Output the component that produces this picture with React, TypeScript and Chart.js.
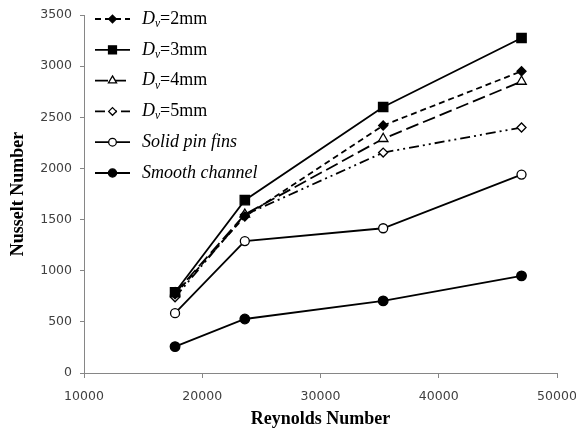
import React, { useEffect, useRef } from 'react';
import { Chart, registerables } from 'chart.js';

Chart.register(...registerables);

const reynolds = [17700, 23600, 35300, 47000];
const dv2 = [770, 1530, 2420, 2950];
const dv3 = [790, 1690, 2600, 3275];
const dv4 = [780, 1550, 2290, 2850];
const dv5 = [740, 1545, 2155, 2400];
const solidPinFins = [585, 1290, 1415, 1940];
const smoothChannel = [258, 528, 705, 950];

const xTicks = [10000, 20000, 30000, 40000, 50000];
const yTicks = [0, 500, 1000, 1500, 2000, 2500, 3000, 3500];

const legendItems = [
  { d: true, rest: '=2mm' },
  { d: true, rest: '=3mm' },
  { d: true, rest: '=4mm' },
  { d: true, rest: '=5mm' },
  { d: false, rest: 'Solid pin fins' },
  { d: false, rest: 'Smooth channel' },
];

const seriesList = [
  { data: dv2, dash: [6, 4], style: 'rectRot', r: 4.5, fill: '#000' },
  { data: dv3, dash: [], style: 'rect', r: 6.6, fill: '#000' },
  { data: dv4, dash: [13, 5], style: 'triangle', r: 5.5, fill: '#fff' },
  { data: dv5, dash: [10, 4, 2, 4, 2, 4], style: 'rectRot', r: 4.5, fill: '#fff' },
  { data: solidPinFins, dash: [], style: 'circle', r: 4.5, fill: '#fff' },
  { data: smoothChannel, dash: [], style: 'circle', r: 4.8, fill: '#000' },
];

function drawMarker(ctx: CanvasRenderingContext2D, style: string, x: number, y: number, r: number, fill: string) {
  ctx.save();
  ctx.setLineDash([]);
  ctx.beginPath();
  if (style === 'circle') {
    ctx.arc(x, y, r, 0, Math.PI * 2);
  } else if (style === 'rect') {
    const s = r * Math.SQRT1_2;
    ctx.rect(x - s, y - s, 2 * s, 2 * s);
  } else if (style === 'rectRot') {
    ctx.moveTo(x - r, y);
    ctx.lineTo(x, y - r);
    ctx.lineTo(x + r, y);
    ctx.lineTo(x, y + r);
  } else if (style === 'triangle') {
    let a = 0;
    ctx.moveTo(x + Math.sin(a) * r, y - Math.cos(a) * r);
    a += (2 * Math.PI) / 3;
    ctx.lineTo(x + Math.sin(a) * r, y - Math.cos(a) * r);
    a += (2 * Math.PI) / 3;
    ctx.lineTo(x + Math.sin(a) * r, y - Math.cos(a) * r);
  }
  ctx.closePath();
  ctx.fillStyle = fill;
  ctx.fill();
  ctx.lineWidth = 1.3;
  ctx.strokeStyle = '#000';
  ctx.stroke();
  ctx.restore();
}

const legendPlugin = {
  id: 'customLegend',
  afterDraw(chart: any) {
    const ctx: CanvasRenderingContext2D = chart.ctx;
    const x0 = 95;
    const x1 = 130;
    const xm = 112.5;
    const tx = 142;
    legendItems.forEach((item, i) => {
      const s = seriesList[i];
      const y = 19 + i * 30.8;
      ctx.save();
      ctx.strokeStyle = '#000';
      ctx.lineWidth = 1.8;
      ctx.setLineDash(s.dash);
      ctx.beginPath();
      ctx.moveTo(x0, y);
      ctx.lineTo(x1, y);
      ctx.stroke();
      ctx.restore();
      drawMarker(ctx, s.style, xm, y, s.r * 0.85, s.fill);
      ctx.save();
      ctx.fillStyle = '#000';
      ctx.textBaseline = 'middle';
      ctx.textAlign = 'left';
      let x = tx;
      if (item.d) {
        ctx.font = 'italic 18px "Liberation Serif"';
        ctx.fillText('D', x, y);
        x += ctx.measureText('D').width;
        ctx.font = 'italic 11.5px "Liberation Serif"';
        ctx.fillText('v', x, y + 5);
        x += ctx.measureText('v').width;
        ctx.font = '18px "Liberation Serif"';
        ctx.fillText(item.rest, x, y);
      } else {
        ctx.font = 'italic 18px "Liberation Serif"';
        ctx.fillText(item.rest, x, y);
      }
      ctx.restore();
    });
  },
};

export default function App() {
  const ref = useRef<HTMLCanvasElement | null>(null);

  useEffect(() => {
    document.body.style.margin = '0';
    if (!ref.current) return;
    const tickFont = { family: '"DejaVu Sans"', size: 12.5 };
    const chart = new Chart(ref.current, {
      type: 'line',
      data: {
        datasets: seriesList.map((s, i) => ({
          label: String(i),
          data: s.data.map((v, j) => ({ x: reynolds[j], y: v })),
          borderColor: '#000',
          borderWidth: 1.8,
          borderDash: s.dash,
          pointStyle: s.style as any,
          pointRadius: s.r,
          pointBackgroundColor: s.fill,
          pointBorderColor: '#000',
          pointBorderWidth: 1.3,
          fill: false,
          tension: 0,
        })),
      },
      options: {
        responsive: false,
        animation: false,
        devicePixelRatio: 1,
        layout: { padding: { top: 15, right: 19, bottom: 0, left: 0 } },
        plugins: {
          legend: { display: false },
          tooltip: { enabled: false },
        },
        scales: {
          x: {
            type: 'linear',
            min: 10000,
            max: 50000,
            afterBuildTicks: (s: any) => {
              s.ticks = xTicks.map((v) => ({ value: v }));
            },
            afterFit: (s: any) => {
              s.height = 59;
              s.paddingLeft = 0;
              s.paddingRight = 0;
            },
            ticks: {
              color: '#404040',
              font: tickFont,
              padding: 11,
              maxRotation: 0,
              callback: (v: any) => String(v),
            },
            grid: { drawOnChartArea: false, drawTicks: true, tickLength: 5, color: '#868686', lineWidth: 1 },
            border: { display: true, color: '#868686', width: 1 },
            title: {
              display: true,
              text: 'Reynolds Number',
              color: '#000',
              font: { family: '"Liberation Serif"', size: 18, weight: 'bold' },
              padding: { top: 0, bottom: 2 },
            },
          },
          y: {
            type: 'linear',
            min: 0,
            max: 3500,
            afterBuildTicks: (s: any) => {
              s.ticks = yTicks.map((v) => ({ value: v }));
            },
            afterFit: (s: any) => {
              s.width = 84;
              s.paddingTop = 0;
              s.paddingBottom = 0;
            },
            ticks: {
              color: '#404040',
              font: tickFont,
              padding: 8,
              callback: (v: any) => String(v),
            },
            grid: { drawOnChartArea: false, drawTicks: true, tickLength: 4, color: '#868686', lineWidth: 1 },
            border: { display: true, color: '#868686', width: 1 },
            title: {
              display: true,
              text: 'Nusselt Number',
              color: '#000',
              font: { family: '"Liberation Serif"', size: 18, weight: 'bold' },
              padding: { top: 8, bottom: 0 },
            },
          },
        },
      },
      plugins: [legendPlugin],
    });
    return () => chart.destroy();
  }, []);

  return (
    <div style={{ position: 'absolute', left: 0, top: 0, width: 576, height: 432 }}>
      <canvas ref={ref} width={576} height={432} style={{ display: 'block' }} />
    </div>
  );
}
